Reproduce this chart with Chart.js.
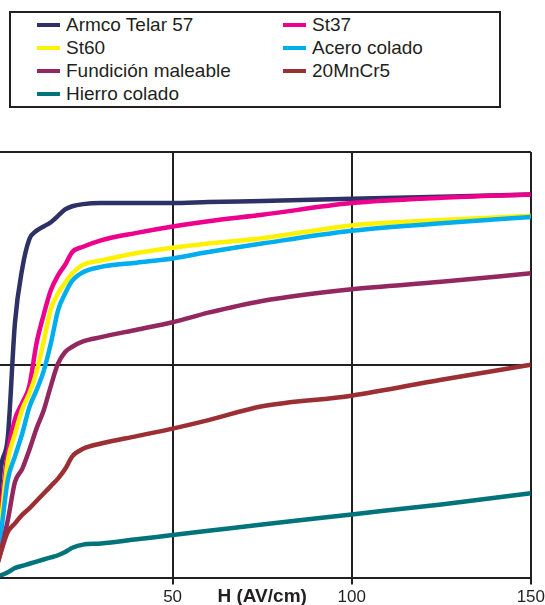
<!DOCTYPE html>
<html>
<head>
<meta charset="utf-8">
<script src="https://cdn.jsdelivr.net/npm/chart.js@4.4.1/dist/chart.umd.min.js"></script>
<style>
  html, body { margin: 0; padding: 0; background: #fff; overflow: hidden; }
  body { width: 545px; height: 605px; position: relative; font-family: "Liberation Sans", Arial, sans-serif; }
  #wrap { position: absolute; left: -60px; top: 0; width: 608px; height: 611px; }
  #legend {
    position: absolute; left: 9px; top: 11px; width: 492px; height: 97px;
    border: 2px solid #231f20; box-sizing: border-box;
    display: grid; grid-template-columns: 246px 246px; grid-auto-rows: 23px;
    padding-left: 26px; align-content: start;
  }
  #legend .item { display: flex; align-items: center; font-size: 19px; color: #231f20; white-space: nowrap; }
  #legend .sw { width: 23px; height: 4px; margin-right: 6px; flex: none; }
</style>
</head>
<body>
<div id="legend"></div>
<div id="wrap"><canvas id="bhChart"></canvas></div>
<script>
// Magnetisation curves, B (T) against H (AV/cm)
const H = [0, 2, 4, 6, 8, 10, 12, 14, 16, 18, 20, 22, 25, 30, 40, 50, 60, 75, 100, 125, 150];

const armco      = [0, 0.50, 0.66, 1.20, 1.45, 1.59, 1.63, 1.65, 1.67, 1.70, 1.73, 1.745, 1.755, 1.76, 1.76, 1.76, 1.765, 1.77, 1.78, 1.79, 1.80];
const st37       = [0, 0.30, 0.59, 0.745, 0.82, 0.90, 1.10, 1.235, 1.35, 1.42, 1.47, 1.53, 1.555, 1.585, 1.62, 1.65, 1.675, 1.705, 1.76, 1.785, 1.80];
const st60       = [0, 0.25, 0.55, 0.675, 0.79, 0.865, 0.965, 1.11, 1.26, 1.335, 1.385, 1.43, 1.47, 1.49, 1.525, 1.55, 1.57, 1.595, 1.655, 1.68, 1.70];
const aceroCol   = [0, 0.20, 0.46, 0.57, 0.675, 0.80, 0.88, 0.97, 1.10, 1.255, 1.335, 1.395, 1.435, 1.46, 1.48, 1.50, 1.53, 1.57, 1.63, 1.665, 1.695];
const fundicion  = [0, 0.12, 0.27, 0.45, 0.51, 0.60, 0.70, 0.785, 0.90, 1.005, 1.06, 1.085, 1.11, 1.13, 1.165, 1.20, 1.245, 1.30, 1.355, 1.39, 1.43];
const mnCr5      = [0, 0.115, 0.215, 0.255, 0.295, 0.325, 0.36, 0.395, 0.43, 0.465, 0.51, 0.57, 0.605, 0.63, 0.665, 0.70, 0.74, 0.805, 0.855, 0.93, 1.00];
const hierroCol  = [0, 0.01, 0.025, 0.045, 0.055, 0.065, 0.075, 0.085, 0.095, 0.105, 0.12, 0.14, 0.155, 0.16, 0.18, 0.20, 0.22, 0.25, 0.297, 0.344, 0.396];

const names  = ['Armco Telar 57', 'St37', 'St60', 'Acero colado', 'Fundición maleable', '20MnCr5', 'Hierro colado'];
const series = [armco, st37, st60, aceroCol, fundicion, mnCr5, hierroCol];
const colors = ['#2e3165', '#ec008c', '#fff200', '#00aeef', '#93275f', '#9b2f33', '#00737b'];

const xTicks = [0, 50, 100, 150];

const ink = '#231f20';
const fontFamily = '"Liberation Sans", Arial, sans-serif';

// axis title sits level with the tick labels, centred on the axis
const axisTitle = {
  id: 'axisTitle',
  afterDraw(chart) {
    const x = chart.scales.x;
    const c = chart.ctx;
    c.save();
    c.font = 'bold 19px ' + fontFamily;
    c.fillStyle = ink;
    c.textAlign = 'center';
    c.textBaseline = 'middle';
    c.fillText('H (AV/cm)', x.getPixelForValue(75), chart.chartArea.bottom + 19);
    c.restore();
  }
};

const ctx = document.getElementById('bhChart').getContext('2d');
const bhChart = new Chart(ctx, {
  type: 'line',
  data: {
    datasets: series.map((s, i) => ({
      label: names[i],
      data: s.map((b, j) => ({ x: H[j], y: b })),
      borderColor: colors[i],
      backgroundColor: colors[i],
      borderWidth: 4.5,
      pointRadius: 0,
      cubicInterpolationMode: 'monotone',
      order: names.length - i   // later curves painted on top
    }))
  },
  options: {
    responsive: true,
    maintainAspectRatio: false,
    animation: false,
    layout: { padding: { top: 152, left: 53.5, right: 15, bottom: 0 } },
    plugins: { legend: { display: false }, tooltip: { enabled: false } },
    scales: {
      x: {
        type: 'linear',
        min: 0,
        max: 150,
        afterBuildTicks: axis => { axis.ticks = xTicks.map(v => ({ value: v })); },
        ticks: { color: ink, font: { family: fontFamily, size: 17 }, padding: 3, maxRotation: 0 },
        grid: { color: ink, lineWidth: 2, tickLength: 7 },
        border: { color: ink, width: 2 }
      },
      y: {
        min: 0,
        max: 2,
        ticks: { display: false, stepSize: 1 },
        grid: { color: ink, lineWidth: 2, drawTicks: false },
        border: { display: false }
      }
    }
  },
  plugins: [axisTitle]
});

// legend box, two columns, filled row by row
const legend = document.getElementById('legend');
bhChart.data.datasets.forEach(ds => {
  const item = document.createElement('div');
  item.className = 'item';
  item.innerHTML = '<span class="sw" style="background:' + ds.borderColor + '"></span>' + ds.label;
  legend.appendChild(item);
});
</script>
</body>
</html>
